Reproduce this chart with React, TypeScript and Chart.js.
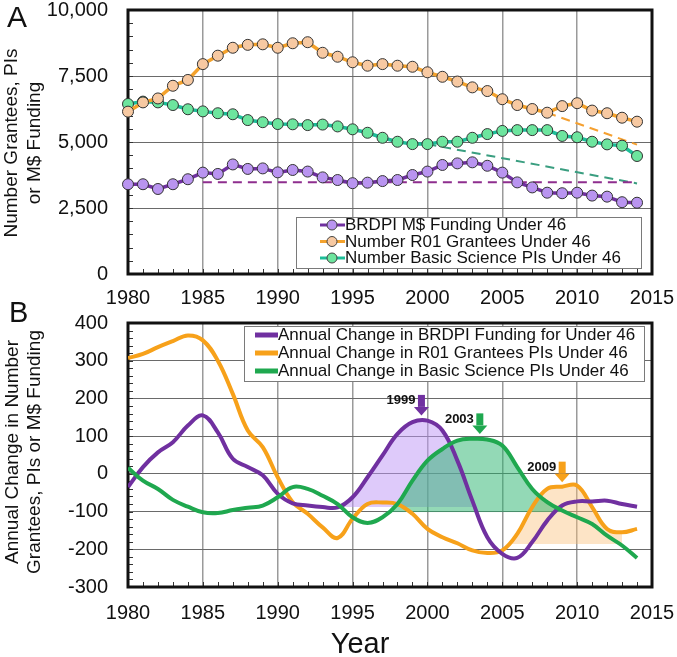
import React, { useEffect, useRef } from 'react';
import { Chart, registerables } from 'chart.js';

Chart.register(...registerables);

const FONT = '"Liberation Sans", Arial, Helvetica, sans-serif';

// ---------- Data ----------
const years = [
  1980, 1981, 1982, 1983, 1984, 1985, 1986, 1987, 1988, 1989,
  1990, 1991, 1992, 1993, 1994, 1995, 1996, 1997, 1998, 1999,
  2000, 2001, 2002, 2003, 2004, 2005, 2006, 2007, 2008, 2009,
  2010, 2011, 2012, 2013, 2014,
];

// Panel A
const brdpiFunding = [
  3400, 3400, 3220, 3400, 3590, 3840, 3790, 4150, 3980, 4000,
  3850, 3940, 3880, 3660, 3560, 3440, 3460, 3520, 3560, 3750,
  3880, 4130, 4190, 4230, 4100, 3840, 3470, 3280, 3080, 3060,
  3080, 2970, 2930, 2720, 2700,
];
const r01Grantees = [
  6150, 6500, 6650, 7130, 7350, 7950, 8270, 8570, 8680, 8700,
  8570, 8740, 8780, 8380, 8230, 8020, 7890, 7950, 7890, 7850,
  7640, 7470, 7290, 7070, 6930, 6620, 6400, 6250, 6110, 6360,
  6470, 6190, 6090, 5920, 5770,
];
const basicPIs = [
  6440, 6530, 6500, 6400, 6240, 6160, 6090, 6050, 5830, 5750,
  5680, 5670, 5640, 5660, 5590, 5480, 5350, 5160, 5010, 4920,
  4920, 5010, 5010, 5160, 5300, 5420, 5450, 5450, 5450, 5230,
  5180, 5010, 4910, 4860, 4470,
];
const brdpiTrendYears = [1985, 2014];
const brdpiTrendValues = [3480, 3480];
const basicTrendYears = [2000, 2014];
const basicTrendValues = [4920, 3430];
const r01TrendYears = [2008, 2014];
const r01TrendValues = [6110, 4900];

const legendLabelsA = [
  'BRDPI M$ Funding Under 46',
  'Number R01 Grantees Under 46',
  'Number Basic Science PIs Under 46',
];

// Panel B
const changeBRDPI = [
  -35, 18, 57, 84, 128, 155, 110, 40, 18, -4,
  -53, -78, -84, -88, -89, -62, -9, 49, 106, 137,
  141, 115, 35, -71, -168, -212, -223, -181, -124, -84,
  -73, -73, -71, -80, -87,
];
const changeR01 = [
  307, 318, 336, 352, 367, 354, 300, 212, 115, 71,
  -9, -75, -106, -142, -170, -119, -80, -76, -80, -106,
  -146, -168, -184, -203, -210, -203, -159, -88, -40, -34,
  -31, -88, -146, -155, -146,
];
const changeBasic = [
  16, -18, -40, -69, -87, -102, -104, -96, -90, -84,
  -62, -35, -40, -58, -80, -115, -130, -115, -80, -18,
  35, 66, 88, 93, 91, 75, 18, -40, -75, -97,
  -115, -133, -164, -190, -223,
];
const legendLabelsB = [
  'Annual Change in BRDPI Funding for Under 46',
  'Annual Change in R01 Grantees PIs Under 46',
  'Annual Change in Basic Science PIs Under 46',
];

// shaded peaks: [BRDPI, Basic Science, R01]
const shadeFrom = [1994, 1997, 2005];
const shadeTo = [2004, 2009, 2013];
const shadeBase = [-88, -102, -186];

// arrows marking peak years: [BRDPI, Basic, R01]
const arrowYears = [1999.6, 2003.5, 2009];
const arrowTips = [155, 106, -22];
const arrowLabels = ['1999', '2003', '2009'];

// ticks
const xTickLabels = [1980, 1985, 1990, 1995, 2000, 2005, 2010, 2015];
const yTickLabelsA = [0, 2500, 5000, 7500, 10000];
const yTickLabelsB = [-300, -200, -100, 0, 100, 200, 300, 400];

// ---------- Styles ----------
const PURPLE = '#7030A0';
const ORANGE_A = '#F4A22C';
const GREEN_A = '#1DBE98';
const PURPLE_FILL = '#B994F0';
const ORANGE_FILL = '#F7C9A2';
const GREEN_FILL = '#6DE59E';
const ORANGE_B = '#F7A11A';
const GREEN_B = '#1FA84F';

const toPoints = (xs: number[], ys: number[]) => xs.map((x, i) => ({ x, y: ys[i] }));
const pointsInRange = (xs: number[], ys: number[], from: number, to: number) => {
  const out: { x: number; y: number }[] = [];
  xs.forEach((x, i) => {
    if (x >= from && x <= to) out.push({ x, y: ys[i] });
  });
  return out;
};

const frameTicksPlugin = {
  id: 'frameTicks',
  beforeDatasetsDraw(chart: any) {
    const { ctx, chartArea: a } = chart;
    const xs = chart.scales.x;
    const ys = chart.scales.y;
    ctx.save();
    ctx.strokeStyle = '#333';
    ctx.lineWidth = 1;
    ctx.beginPath();
    xs.ticks.forEach((t: any) => {
      const p = Math.round(xs.getPixelForValue(t.value)) + 0.5;
      ctx.moveTo(p, a.bottom);
      ctx.lineTo(p, a.bottom - 5);
    });
    ys.ticks.forEach((t: any) => {
      const p = Math.round(ys.getPixelForValue(t.value)) + 0.5;
      ctx.moveTo(a.left, p);
      ctx.lineTo(a.left + 5, p);
    });
    ctx.stroke();
    ctx.lineWidth = 3;
    ctx.strokeStyle = '#111';
    ctx.strokeRect(a.left, a.top, a.right - a.left, a.bottom - a.top);
    ctx.restore();
  },
};

function drawYTitle(ctx: CanvasRenderingContext2D, cx: number, cy: number, lines: string[], gap: number) {
  ctx.save();
  ctx.translate(cx, cy);
  ctx.rotate(-Math.PI / 2);
  ctx.font = `19px ${FONT}`;
  ctx.fillStyle = '#111';
  ctx.textAlign = 'center';
  ctx.textBaseline = 'middle';
  ctx.fillText(lines[0], 0, -gap);
  ctx.fillText(lines[1], 0, gap);
  ctx.restore();
}

const xScaleCommon = (height: number, gap: number) => ({
  type: 'linear' as const,
  min: 1980,
  max: 2015,
  afterFit: (s: any) => {
    s.height = height;
  },
  border: { display: false },
  grid: {
    drawTicks: true,
    tickLength: gap,
    tickColor: 'rgba(0,0,0,0)',
    color: (c: any) => (c.tick && xTickLabels.includes(c.tick.value) ? '#9a9a9a' : 'rgba(0,0,0,0)'),
    lineWidth: 1.5,
  },
  ticks: {
    stepSize: 1,
    autoSkip: false,
    maxRotation: 0,
    padding: 0,
    color: '#111',
    font: { family: FONT, size: 20 },
    callback: (v: any) => (xTickLabels.includes(v) ? String(v) : ''),
  },
});

const yScaleCommon = (min: number, max: number, step: number, labels: number[], fmt: (v: number) => string) => ({
  min,
  max,
  afterFit: (s: any) => {
    s.width = 120;
  },
  border: { display: false },
  grid: {
    drawTicks: true,
    tickLength: 20,
    tickColor: 'rgba(0,0,0,0)',
    color: (c: any) => (c.tick && labels.includes(c.tick.value) ? '#6a6a6a' : 'rgba(0,0,0,0)'),
    lineWidth: 1,
  },
  ticks: {
    stepSize: step,
    autoSkip: false,
    padding: 0,
    color: '#111',
    font: { family: FONT, size: 20 },
    callback: (v: any) => (labels.includes(v) ? fmt(v) : ''),
  },
});

function PanelA() {
  const ref = useRef<HTMLCanvasElement>(null);
  useEffect(() => {
    const OFF = 10; // canvas top is 10px above page top
    const decor = {
      id: 'decorA',
      afterDraw(chart: any) {
        const ctx = chart.ctx as CanvasRenderingContext2D;
        ctx.save();
        ctx.fillStyle = '#111';
        ctx.font = `30px ${FONT}`;
        ctx.textAlign = 'left';
        ctx.textBaseline = 'alphabetic';
        ctx.fillText('A', 7, 27 + OFF);
        ctx.restore();
        drawYTitle(ctx, 23.5, 143 + OFF, ['Number Grantees, PIs', 'or M$ Funding'], 11.5);
        // legend
        ctx.save();
        ctx.fillStyle = '#fff';
        ctx.fillRect(296, 217 + OFF, 346, 51);
        ctx.strokeStyle = '#7a7a7a';
        ctx.lineWidth = 1;
        ctx.strokeRect(296.5, 217.5 + OFF, 345, 51);
        const ds = chart.data.datasets;
        legendLabelsA.forEach((lab, i) => {
          const y = 225 + i * 16.5 + OFF;
          ctx.strokeStyle = ds[i].borderColor;
          ctx.lineWidth = 3;
          ctx.beginPath();
          ctx.moveTo(320, y);
          ctx.lineTo(345, y);
          ctx.stroke();
          ctx.beginPath();
          ctx.arc(332, y, 5, 0, Math.PI * 2);
          ctx.fillStyle = ds[i].pointBackgroundColor;
          ctx.fill();
          ctx.strokeStyle = '#444';
          ctx.lineWidth = 1;
          ctx.stroke();
          ctx.fillStyle = '#111';
          ctx.font = `17px ${FONT}`;
          ctx.textAlign = 'left';
          ctx.textBaseline = 'middle';
          ctx.fillText(lab, 345, y + 0.5);
        });
        ctx.restore();
      },
    };
    const main = (data: number[], line: string, fill: string, label: string) => ({
      label,
      data: toPoints(years, data),
      borderColor: line,
      backgroundColor: fill,
      pointBackgroundColor: fill,
      pointBorderColor: '#333',
      pointBorderWidth: 1,
      pointRadius: 5.5,
      borderWidth: 3.5,
      tension: 0,
      clip: false as const,
    });
    const dashed = (xs: number[], ys: number[], color: string) => ({
      label: '',
      data: toPoints(xs, ys),
      borderColor: color,
      borderWidth: 2,
      borderDash: [9, 6],
      pointRadius: 0,
      tension: 0,
    });
    const chart = new Chart(ref.current!, {
      type: 'line',
      data: {
        datasets: [
          main(brdpiFunding, PURPLE, PURPLE_FILL, legendLabelsA[0]),
          main(r01Grantees, ORANGE_A, ORANGE_FILL, legendLabelsA[1]),
          main(basicPIs, GREEN_A, GREEN_FILL, legendLabelsA[2]),
          dashed(brdpiTrendYears, brdpiTrendValues, '#8E2E8E'),
          dashed(basicTrendYears, basicTrendValues, '#3A9E80'),
          dashed(r01TrendYears, r01TrendValues, '#F5A030'),
        ] as any,
      },
      options: {
        responsive: false,
        animation: false,
        devicePixelRatio: 1,
        layout: { autoPadding: false, padding: { left: 8, right: 25, top: 20, bottom: 0 } },
        plugins: { legend: { display: false }, tooltip: { enabled: false } },
        scales: {
          x: xScaleCommon(36, 12) as any,
          y: yScaleCommon(0, 10000, 500, yTickLabelsA, (v) => v.toLocaleString('en-US')) as any,
        },
      },
      plugins: [frameTicksPlugin, decor],
    });
    return () => chart.destroy();
  }, []);
  return (
    <canvas
      ref={ref}
      width={677}
      height={320}
      style={{ position: 'absolute', left: 0, top: -10, width: 677, height: 320 }}
    />
  );
}

function PanelB() {
  const ref = useRef<HTMLCanvasElement>(null);
  useEffect(() => {
    const OFF = -295; // canvas top at page y 295
    const arrowColors = [PURPLE, GREEN_B, ORANGE_B];
    const decor = {
      id: 'decorB',
      afterDraw(chart: any) {
        const ctx = chart.ctx as CanvasRenderingContext2D;
        const xs = chart.scales.x;
        const ys = chart.scales.y;
        ctx.save();
        ctx.fillStyle = '#111';
        ctx.font = `29px ${FONT}`;
        ctx.textAlign = 'left';
        ctx.textBaseline = 'alphabetic';
        ctx.fillText('B', 9, 322 + OFF);
        ctx.textAlign = 'center';
        ctx.fillText('Year', 360, 653 + OFF);
        ctx.restore();
        drawYTitle(ctx, 24, 452 + OFF, ['Annual Change in Number', 'Grantees, PIs or M$ Funding'], 11);

        // arrows
        ctx.save();
        arrowYears.forEach((yr, i) => {
          const px = xs.getPixelForValue(yr);
          const tip = ys.getPixelForValue(arrowTips[i]);
          const top = tip - 20.5;
          const headStart = tip - 8.5;
          ctx.fillStyle = arrowColors[i];
          ctx.fillRect(px - 3.5, top, 7, headStart - top);
          ctx.beginPath();
          ctx.moveTo(px - 7.5, headStart);
          ctx.lineTo(px + 7.5, headStart);
          ctx.lineTo(px, tip);
          ctx.closePath();
          ctx.fill();
          ctx.fillStyle = '#111';
          ctx.font = `bold 13px ${FONT}`;
          ctx.textAlign = 'right';
          ctx.textBaseline = 'middle';
          ctx.fillText(arrowLabels[i], px - 6, top + 6);
        });
        ctx.restore();

        // legend
        ctx.save();
        ctx.fillStyle = '#fff';
        ctx.fillRect(244, 326 + OFF, 401, 55);
        ctx.strokeStyle = '#7a7a7a';
        ctx.lineWidth = 1;
        ctx.strokeRect(244.5, 326.5 + OFF, 400, 55);
        const ds = chart.data.datasets;
        legendLabelsB.forEach((lab, i) => {
          const y = 335 + i * 18 + OFF;
          ctx.strokeStyle = ds[i].borderColor;
          ctx.lineWidth = 5;
          ctx.beginPath();
          ctx.moveTo(255, y);
          ctx.lineTo(278, y);
          ctx.stroke();
          ctx.fillStyle = '#111';
          ctx.font = `17px ${FONT}`;
          ctx.textAlign = 'left';
          ctx.textBaseline = 'middle';
          ctx.fillText(lab, 278, y + 0.5);
        });
        ctx.restore();
      },
    };
    const line = (data: number[], color: string, label: string, order: number) => ({
      label,
      data: toPoints(years, data),
      borderColor: color,
      borderWidth: 4,
      pointRadius: 0,
      tension: 0.4,
      fill: false,
      order,
    });
    const shade = (data: number[], idx: number, color: string, order: number) => ({
      label: '',
      data: pointsInRange(years, data, shadeFrom[idx], shadeTo[idx]),
      borderColor: 'rgba(0,0,0,0)',
      borderWidth: 0,
      pointRadius: 0,
      tension: 0.4,
      fill: { target: { value: shadeBase[idx] }, above: color, below: 'rgba(0,0,0,0)' },
      order,
    });
    const chart = new Chart(ref.current!, {
      type: 'line',
      data: {
        datasets: [
          line(changeBRDPI, PURPLE, legendLabelsB[0], 1),
          line(changeR01, ORANGE_B, legendLabelsB[1], 2),
          line(changeBasic, GREEN_B, legendLabelsB[2], 0),
          shade(changeBRDPI, 0, 'rgba(190,150,245,0.5)', 4),
          shade(changeBasic, 1, 'rgba(40,180,110,0.5)', 3),
          shade(changeR01, 2, 'rgba(250,190,120,0.42)', 5),
        ] as any,
      },
      options: {
        responsive: false,
        animation: false,
        devicePixelRatio: 1,
        layout: { autoPadding: false, padding: { left: 8, right: 25, top: 28, bottom: 0 } },
        plugins: { legend: { display: false }, tooltip: { enabled: false } },
        scales: {
          x: xScaleCommon(70, 14) as any,
          y: yScaleCommon(-300, 400, 20, yTickLabelsB, (v) => String(v)) as any,
        },
      },
      plugins: [frameTicksPlugin, decor],
    });
    return () => chart.destroy();
  }, []);
  return (
    <canvas
      ref={ref}
      width={677}
      height={362}
      style={{ position: 'absolute', left: 0, top: 295, width: 677, height: 362 }}
    />
  );
}

export default function App() {
  return (
    <div
      style={{
        position: 'absolute',
        left: 0,
        top: 0,
        width: 677,
        height: 657,
        overflow: 'hidden',
        background: '#fff',
      }}
    >
      <PanelA />
      <PanelB />
    </div>
  );
}
